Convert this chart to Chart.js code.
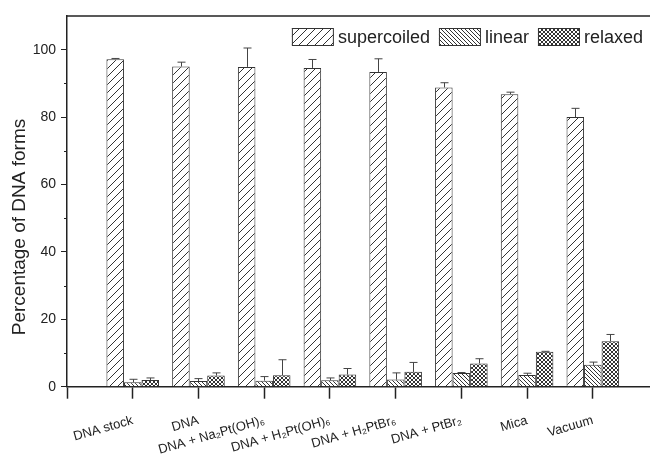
<!DOCTYPE html>
<html lang="en">
<head>
    <meta charset="UTF-8">
    <title>Percentage of DNA forms</title>
    <script src="https://cdn.jsdelivr.net/npm/chart.js"></script>
    <style>
        body {
            margin: 0;
            background-color: #ffffff;
        }

        #chart-box {
            width: 650px;
            height: 462px;
        }
    </style>
</head>
<body>

<div id="chart-box">
    <canvas id="dnaChart" width="650" height="462"></canvas>
</div>

<script>
    // categories along the x axis (positions 1..8)
    var samples = ['DNA stock', 'DNA', 'DNA + Na\u2082Pt(OH)\u2086', 'DNA + H\u2082Pt(OH)\u2086',
        'DNA + H\u2082PtBr\u2086', 'DNA + PtBr\u2082', 'Mica', 'Vacuum'];

    var seriesNames = ['supercoiled', 'linear', 'relaxed'];

    // values (%)
    var supercoiled = [97.2, 95.0, 94.9, 94.6, 93.4, 88.8, 86.8, 80.0];
    var linear = [1.3, 1.7, 1.8, 1.9, 2.1, 4.1, 3.5, 6.5];
    var relaxed = [2.0, 3.3, 3.4, 3.6, 4.4, 6.9, 10.4, 13.5];

    // upper error bars
    var supercoiledErr = [0.2, 1.3, 5.6, 2.5, 3.9, 1.4, 0.6, 2.6];
    var linearErr = [0.9, 0.7, 1.2, 0.7, 2.0, 0.1, 0.5, 0.8];
    var relaxedErr = [0.6, 0.8, 4.6, 1.8, 2.8, 1.4, 0.1, 2.0];

    var yTicks = [0, 20, 40, 60, 80, 100];

    var ink = '#222222';
    var font = "'Liberation Sans', Arial, sans-serif";

    // hatch fills like the original plot
    function makeHatch(size, dirs, lineWidth) {
        var c = document.createElement('canvas');
        c.width = size;
        c.height = size;
        var g = c.getContext('2d');
        g.fillStyle = '#ffffff';
        g.fillRect(0, 0, size, size);
        g.strokeStyle = '#333333';
        g.lineWidth = lineWidth;
        dirs.forEach(function (d) {
            g.beginPath();
            if (d === '/') {
                g.moveTo(0, size); g.lineTo(size, 0);
                g.moveTo(-1, 1); g.lineTo(1, -1);
                g.moveTo(size - 1, size + 1); g.lineTo(size + 1, size - 1);
            } else {
                g.moveTo(0, 0); g.lineTo(size, size);
                g.moveTo(size - 1, -1); g.lineTo(size + 1, 1);
                g.moveTo(-1, size - 1); g.lineTo(1, size + 1);
            }
            g.stroke();
        });
        return g.createPattern(c, 'repeat');
    }

    var fills = [
        makeHatch(8, ['/'], 1),
        makeHatch(4, ['\\'], 1),
        makeHatch(4, ['/', '\\'], 1)
    ];

    function toPoints(values) {
        return values.map(function (v, i) {
            return {x: i + 1, y: v};
        });
    }

    var errors = [supercoiledErr, linearErr, relaxedErr];

    // upward error bars with a cap
    var errorBars = {
        id: 'errorBars',
        afterDatasetsDraw: function (chart) {
            var ctx = chart.ctx;
            var yScale = chart.scales.y;
            ctx.save();
            ctx.strokeStyle = '#444444';
            ctx.lineWidth = 1;
            chart.data.datasets.forEach(function (ds, i) {
                var meta = chart.getDatasetMeta(i);
                meta.data.forEach(function (bar, j) {
                    var err = errors[i][j];
                    if (!err) return;
                    var top = yScale.getPixelForValue(ds.data[j].y + err);
                    var x = Math.round(bar.x) + 0.5;
                    ctx.beginPath();
                    ctx.moveTo(x, bar.y);
                    ctx.lineTo(x, top);
                    ctx.moveTo(x - 4, top);
                    ctx.lineTo(x + 4, top);
                    ctx.stroke();
                });
            });
            ctx.restore();
        }
    };

    // frame top line, minor y ticks, y title and the legend inside the plot
    var decorations = {
        id: 'decorations',
        afterDraw: function (chart) {
            var ctx = chart.ctx;
            var area = chart.chartArea;
            var yScale = chart.scales.y;
            ctx.save();

            ctx.strokeStyle = ink;
            ctx.lineWidth = 1.5;
            ctx.beginPath();
            ctx.moveTo(area.left, area.top);
            ctx.lineTo(area.right, area.top);
            ctx.stroke();

            ctx.lineWidth = 1;
            for (var v = 10; v < 110; v += 20) {
                var py = Math.round(yScale.getPixelForValue(v)) + 0.5;
                ctx.beginPath();
                ctx.moveTo(area.left - 3, py);
                ctx.lineTo(area.left, py);
                ctx.stroke();
            }

            ctx.fillStyle = ink;
            ctx.font = '19px ' + font;
            ctx.textAlign = 'center';
            ctx.textBaseline = 'middle';
            ctx.translate(20, 227);
            ctx.rotate(-Math.PI / 2);
            ctx.fillText('Percentage of DNA forms', 0, 0);
            ctx.setTransform(1, 0, 0, 1, 0, 0);

            ctx.font = '18px ' + font;
            ctx.textAlign = 'left';
            var boxW = 42, boxH = 18, gap = 4, itemGap = 9;
            var widths = chart.data.datasets.map(function (ds) {
                return ctx.measureText(ds.label).width;
            });
            var total = widths.reduce(function (a, w) {
                return a + boxW + gap + w;
            }, 0) + itemGap * (widths.length - 1);
            var x = 643 - total;
            var y = 28;
            chart.data.datasets.forEach(function (ds, i) {
                ctx.fillStyle = ds.backgroundColor;
                ctx.fillRect(x, y, boxW, boxH);
                ctx.strokeStyle = '#333333';
                ctx.lineWidth = 1;
                ctx.strokeRect(x + 0.5, y + 0.5, boxW - 1, boxH - 1);
                ctx.fillStyle = ink;
                ctx.fillText(ds.label, x + boxW + gap, y + boxH / 2 + 1);
                x += boxW + gap + widths[i] + itemGap;
            });
            ctx.restore();
        }
    };

    var seriesValues = [supercoiled, linear, relaxed];

    var ctx = document.getElementById('dnaChart').getContext('2d');
    var dnaChart = new Chart(ctx, {
        type: 'bar',
        data: {
            datasets: seriesNames.map(function (name, i) {
                return {
                    label: name,
                    data: toPoints(seriesValues[i]),
                    backgroundColor: fills[i],
                    borderColor: '#333333',
                    borderWidth: 1,
                    barPercentage: 1.0,
                    categoryPercentage: 0.8
                };
            })
        },
        options: {
            responsive: false,
            animation: false,
            layout: {
                padding: {top: 16, right: 0, bottom: 0, left: 0}
            },
            plugins: {
                legend: {display: false},
                tooltip: {enabled: false}
            },
            scales: {
                x: {
                    type: 'linear',
                    min: 0,
                    max: 8.87,
                    offset: false,
                    afterFit: function (scale) {
                        scale.height = 75.3;
                    },
                    grid: {
                        offset: false,
                        drawOnChartArea: false,
                        tickLength: 12,
                        tickColor: ink,
                        tickWidth: 1.5
                    },
                    border: {color: ink, width: 1.5},
                    ticks: {
                        stepSize: 1,
                        includeBounds: false,
                        autoSkip: false,
                        minRotation: 16,
                        maxRotation: 16,
                        padding: 14,
                        color: ink,
                        font: {family: font, size: 13},
                        callback: function (value) {
                            return value >= 1 && value <= samples.length ? samples[value - 1] : '';
                        }
                    }
                },
                y: {
                    min: 0,
                    max: 110,
                    afterFit: function (scale) {
                        scale.width = 67;
                    },
                    grid: {
                        drawOnChartArea: false,
                        tickLength: 6,
                        tickWidth: 1,
                        tickColor: function (c) {
                            return yTicks.indexOf(c.tick.value) >= 0 ? ink : 'rgba(0,0,0,0)';
                        }
                    },
                    border: {color: ink, width: 1.5},
                    ticks: {
                        stepSize: 10,
                        includeBounds: false,
                        padding: 5,
                        color: ink,
                        font: {family: font, size: 14},
                        callback: function (value) {
                            return yTicks.indexOf(value) >= 0 ? value : '';
                        }
                    }
                }
            }
        },
        plugins: [errorBars, decorations]
    });
</script>

</body>
</html>
